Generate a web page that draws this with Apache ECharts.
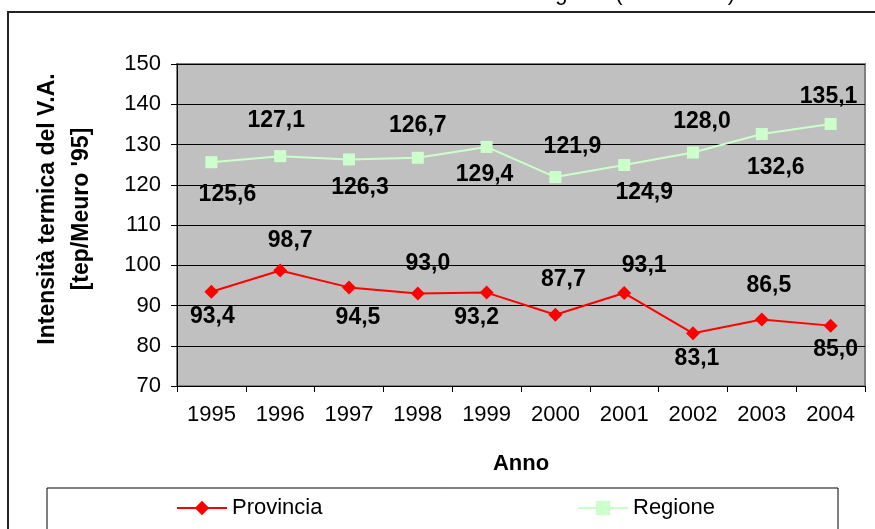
<!DOCTYPE html>
<html>
<head>
<meta charset="utf-8">
<script src="https://cdn.jsdelivr.net/npm/echarts@6/dist/echarts.min.js"></script>
<style>
  html, body { margin: 0; padding: 0; background: #fff; }
  #chart { width: 875px; height: 529px; }
</style>
</head>
<body>
<div id="chart"></div>
<script>
// Years on the horizontal axis
const years = ['1995', '1996', '1997', '1998', '1999', '2000', '2001', '2002', '2003', '2004'];

// Thermal intensity of value added [tep/Meuro '95]
const provincia = [93.4, 98.7, 94.5, 93.0, 93.2, 87.7, 93.1, 83.1, 86.5, 85.0];
const regione = [125.6, 127.1, 126.3, 126.7, 129.4, 121.9, 124.9, 128.0, 132.6, 135.1];

// Value-axis ticks
const yTicks = { min: 70, max: 150, step: 10 };

// Label placement around each marker (pixels, relative to the point)
const provLabelOffset = [[1, 25], [10, -30], [9, 30], [10, -30], [-10, 25], [8, -35], [20, -27], [4, 25], [7, -34], [5, 24]];
const regLabelOffset = [[16, 32], [-4, -36], [11, 28], [0, -32], [-2, 28], [17, -30], [20, 28], [9, -31], [14, 34], [-2, -27]];

const FONT = '"Liberation Sans", Arial, sans-serif';
const fmt = v => v.toFixed(1).replace('.', ',');

function withLabels(values, offsets) {
  return values.map((v, i) => ({ value: v, label: { offset: offsets[i] } }));
}

const chart = echarts.init(document.getElementById('chart'), null, { renderer: 'canvas' });

const labelStyle = {
  show: true,
  position: 'inside',
  color: '#000',
  fontFamily: FONT,
  fontSize: 23,
  fontWeight: 'bold',
  formatter: p => fmt(p.value)
};

const legendCommon = {
  top: 497,
  padding: 0,
  itemWidth: 50, itemHeight: 18, itemGap: 0,
  textStyle: { fontFamily: FONT, fontSize: 22, color: '#000' }
};

chart.setOption({
  animation: false,
  backgroundColor: '#fff',
  textStyle: { fontFamily: FONT },
  grid: {
    left: 177, right: 10, top: 64, bottom: 143,
    show: true,
    backgroundColor: '#C0C0C0',
    borderColor: '#808080',
    borderWidth: 2
  },
  legend: [
    Object.assign({ data: ['Provincia'], left: 176 }, legendCommon),
    Object.assign({ data: ['Regione'], left: 577 }, legendCommon)
  ],
  xAxis: {
    type: 'category',
    data: years,
    boundaryGap: true,
    name: 'Anno',
    nameLocation: 'middle',
    nameGap: 67,
    nameTextStyle: { fontFamily: FONT, fontSize: 22, fontWeight: 'bold', color: '#000' },
    axisLine: { show: true, lineStyle: { color: '#000', width: 1 } },
    axisTick: { show: true, length: 6, lineStyle: { color: '#000' } },
    axisLabel: { fontFamily: FONT, fontSize: 22, color: '#000', margin: 18 },
    splitLine: { show: false }
  },
  yAxis: {
    type: 'value',
    min: yTicks.min, max: yTicks.max, interval: yTicks.step,
    axisLine: { show: true, lineStyle: { color: '#000', width: 1 } },
    axisTick: { show: true, length: 6, lineStyle: { color: '#000' } },
    axisLabel: { fontFamily: FONT, fontSize: 22, color: '#000', margin: 16 },
    splitLine: { show: true, lineStyle: { color: '#000', width: 1 } }
  },
  series: [
    {
      name: 'Provincia',
      type: 'line',
      data: withLabels(provincia, provLabelOffset),
      symbol: 'diamond',
      symbolSize: 14,
      itemStyle: { color: '#FF0000' },
      lineStyle: { color: '#FF0000', width: 2 },
      label: labelStyle,
      z: 3
    },
    {
      name: 'Regione',
      type: 'line',
      data: withLabels(regione, regLabelOffset),
      symbol: 'rect',
      symbolSize: 12,
      itemStyle: { color: '#CCFFCC' },
      lineStyle: { color: '#CCFFCC', width: 2 },
      label: labelStyle,
      z: 3
    }
  ],
  graphic: [
    {
      type: 'rect',
      shape: { x: 8, y: 12, width: 900, height: 600 },
      style: { fill: 'none', stroke: '#222', lineWidth: 2 },
      z: -1
    },
    {
      type: 'rect',
      shape: { x: 47, y: 488, width: 791, height: 80 },
      style: { fill: 'none', stroke: '#000', lineWidth: 1 },
      z: -1
    },
    {
      type: 'text',
      x: 735, y: -6,
      style: {
        text: 'Regione (1995-2004)',
        fontFamily: FONT, fontSize: 22, fill: '#000',
        textAlign: 'right', textVerticalAlign: 'middle'
      }
    },
    {
      type: 'text',
      x: 65, y: 209,
      rotation: Math.PI / 2,
      style: {
        text: "Intensità termica del V.A.\n[tep/Meuro '95]",
        fontFamily: FONT, fontSize: 23, fontWeight: 'bold', fill: '#000',
        lineHeight: 34,
        textAlign: 'center', textVerticalAlign: 'middle'
      }
    }
  ]
});
</script>
</body>
</html>
